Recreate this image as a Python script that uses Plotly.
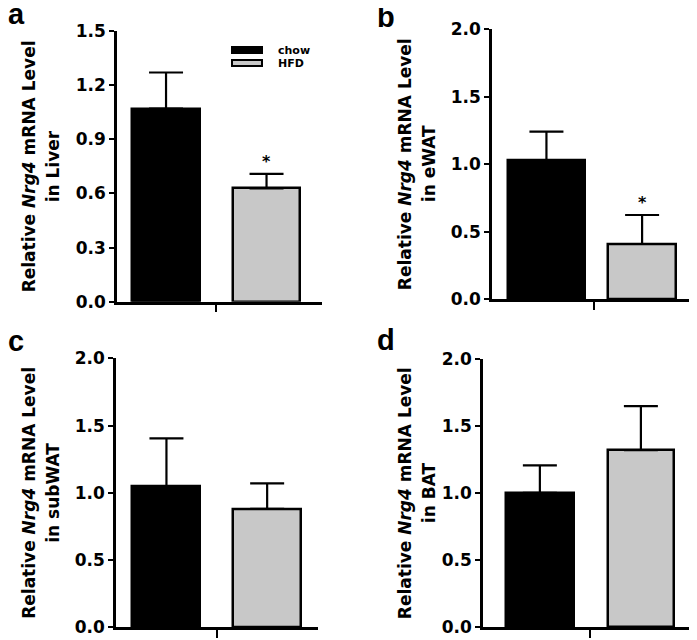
import plotly.graph_objects as go

# groups and per-panel values (mean, upper SEM)
groups = ["chow", "HFD"]
tissues = ["Liver", "eWAT", "subWAT", "BAT"]
panel_letters = ["a", "b", "c", "d"]

liver_mean = [1.07, 0.628]
liver_err = [0.20, 0.08]
ewat_mean = [1.026, 0.408]
ewat_err = [0.215, 0.215]
subwat_mean = [1.045, 0.88]
subwat_err = [0.36, 0.19]
bat_mean = [1.003, 1.321]
bat_err = [0.204, 0.328]

significant = [[False, True], [False, True], [False, False], [False, False]]

y_max = [1.5, 2.0, 2.0, 2.0]
y_ticks = [[0.0, 0.3, 0.6, 0.9, 1.2, 1.5],
           [0.0, 0.5, 1.0, 1.5, 2.0],
           [0.0, 0.5, 1.0, 1.5, 2.0],
           [0.0, 0.5, 1.0, 1.5, 2.0]]

means = [liver_mean, ewat_mean, subwat_mean, bat_mean]
errs = [liver_err, ewat_err, subwat_err, bat_err]

colors = ["black", "#c8c8c8"]

# the page body has an 8px margin, so the figure is a bit smaller and shifted
OFF = 8
FW, FH = 697 - OFF, 640 - OFF


def px(x):
    return (x - OFF) / FW


def py(y):
    return 1 - (y - OFF) / FH


# panel boxes in window pixels: (x0, x1, ytop, ybottom), plus x-range and bar widths
boxes = [(117, 322, 31, 301.7), (492, 693, 29.3, 299),
         (116, 318, 358.3, 627.3), (483, 692, 359, 627.3)]
xranges = [[-0.488, 1.552], [-0.569, 1.532], [-0.501, 1.505], [-0.563, 1.506]]
widths = [[0.68, 0.67], [0.81, 0.71], [0.675, 0.67], [0.67, 0.66]]

fig = go.Figure()
font_main = "DejaVu Sans, sans-serif"

for i in range(4):
    x0, x1, yt, yb = boxes[i]
    sfx = "" if i == 0 else str(i + 1)
    for j, g in enumerate(groups):
        fig.add_trace(go.Bar(
            x=[j], y=[means[i][j]], width=widths[i][j],
            marker=dict(color=colors[j], line=dict(color="black", width=2.5)),
            error_y=dict(type="data", symmetric=False, array=[errs[i][j]],
                         arrayminus=[0], color="black", thickness=2.2, width=17),
            xaxis="x" + sfx, yaxis="y" + sfx, showlegend=False, name=g,
        ))
        if significant[i][j]:
            fig.add_annotation(x=j, y=means[i][j] + errs[i][j], xref="x" + sfx, yref="y" + sfx,
                               text="*", showarrow=False, yshift=12,
                               xanchor="center", yanchor="middle",
                               font=dict(size=16, family=font_main, color="black", weight="bold"))
    fig.layout["xaxis" + sfx] = dict(
        domain=[px(x0), px(x1)], range=xranges[i], anchor="y" + sfx, automargin=False,
        showline=True, linecolor="black", linewidth=2.5, showgrid=False, zeroline=False,
        tickvals=[0.5], ticktext=[""], ticks="outside", ticklen=8, tickwidth=2.2, tickcolor="black",
        fixedrange=True,
    )
    fig.layout["yaxis" + sfx] = dict(
        domain=[py(yb), py(yt)], range=[0, y_max[i]], anchor="x" + sfx, automargin=False,
        showline=True, linecolor="black", linewidth=2.5, showgrid=False, zeroline=False,
        tickvals=y_ticks[i], ticktext=[f"{v:.1f}" for v in y_ticks[i]],
        ticks="outside", ticklen=5, tickwidth=2.2, tickcolor="black",
        tickfont=dict(size=17, family=font_main, color="black", weight="bold"),
        fixedrange=True,
    )
    # y-axis title: two rotated lines
    line_x = [29, 53] if i in (0, 2) else [405, 429]
    lines = ["Relative <i>Nrg4</i> mRNA Level", f"in {tissues[i]}"]
    for lx, txt in zip(line_x, lines):
        fig.add_annotation(
            x=px(lx), y=py((yt + yb) / 2), xref="paper", yref="paper",
            text=txt, textangle=-90, showarrow=False,
            xanchor="center", yanchor="middle",
            font=dict(size=17, family=font_main, color="black", weight="bold"),
        )

# panel letters
letter_pos = [(16, 14), (386, 17), (16, 341), (386, 340)]
for letter, (lx, ly) in zip(panel_letters, letter_pos):
    fig.add_annotation(x=px(lx), y=py(ly), xref="paper", yref="paper",
                       text=letter, showarrow=False, xanchor="center", yanchor="middle",
                       font=dict(size=29, family="Liberation Sans, Arial, sans-serif",
                                 color="black", weight="bold"))

# legend in panel a
leg_rows = [50, 63]
for j, g in enumerate(groups):
    cy = leg_rows[j]
    fig.add_shape(type="rect", xref="paper", yref="paper",
                  x0=px(232), x1=px(262), y0=py(cy + 3), y1=py(cy - 3),
                  fillcolor=colors[j], line=dict(color="black", width=2))
    fig.add_annotation(x=px(276), y=py(cy), xref="paper", yref="paper",
                       text=g, showarrow=False, xanchor="left", yanchor="middle",
                       font=dict(size=11, family=font_main, color="black", weight="bold"))

fig.update_layout(
    width=FW, height=FH, margin=dict(l=0, r=0, t=0, b=0),
    plot_bgcolor="white", paper_bgcolor="white", bargap=0,
)

fig.write_html("out.html")
